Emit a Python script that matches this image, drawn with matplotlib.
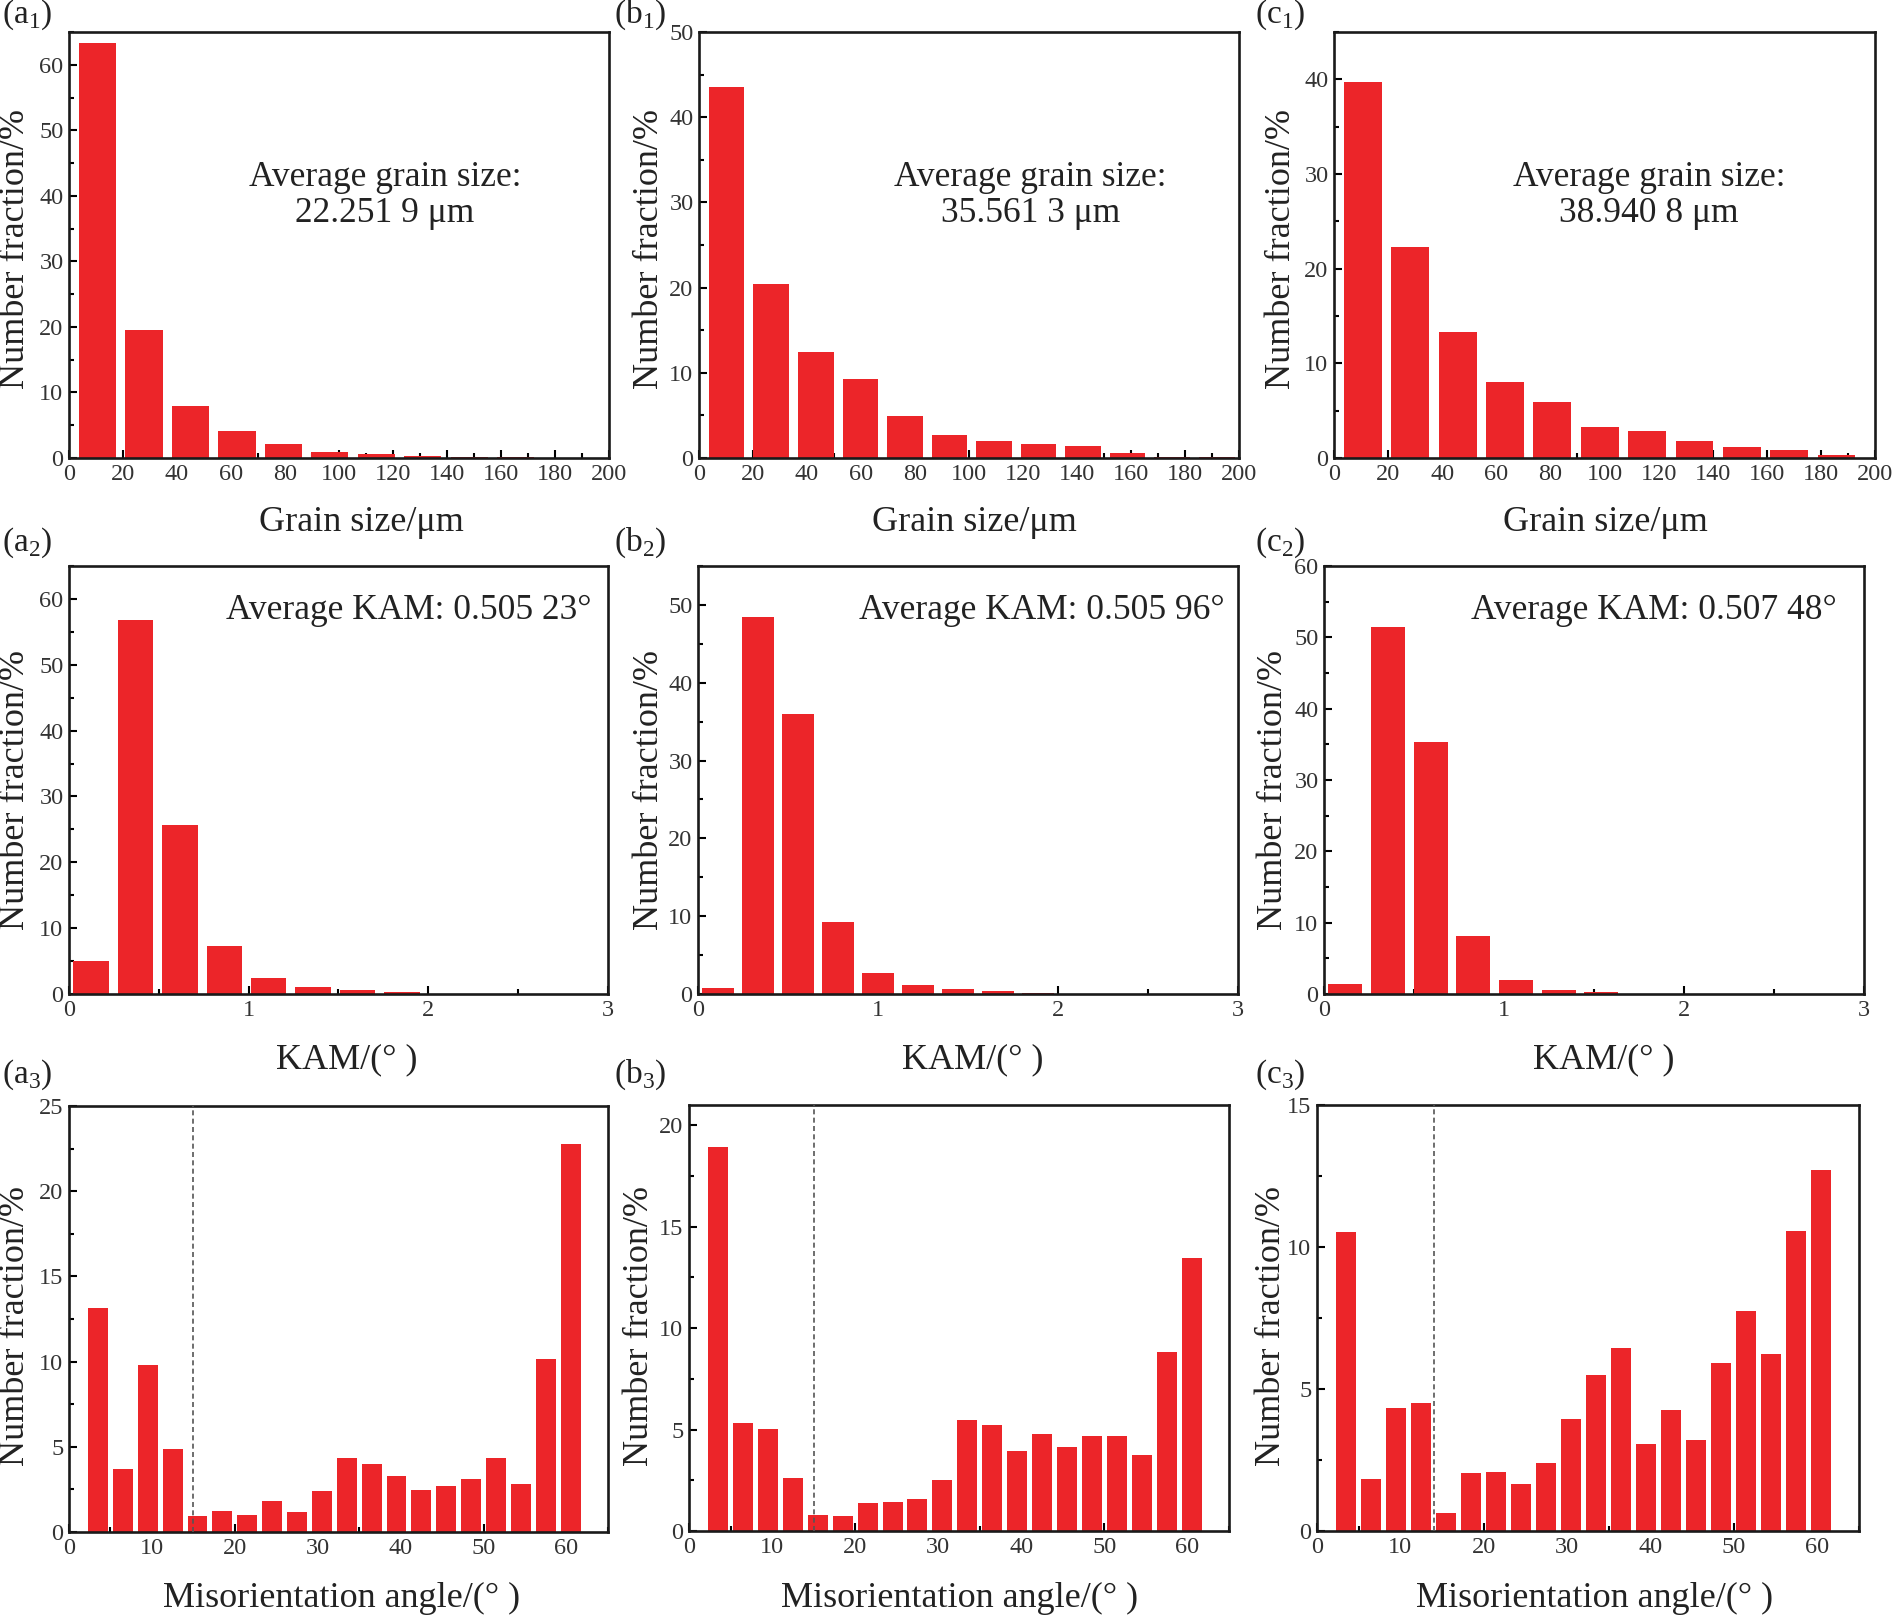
import matplotlib
matplotlib.use("Agg")
import matplotlib.pyplot as plt
from matplotlib.ticker import MultipleLocator

plt.rcParams['font.family'] = ['Liberation Serif', 'DejaVu Serif']
plt.rcParams['mathtext.fontset'] = 'custom'
plt.rcParams['mathtext.rm'] = 'Liberation Serif'

W, H = 1895, 1617
RED = '#EC2529'
TXT = '#222222'

# grain size histograms (bins start at 2 um)
grain_start = 2.0
grain_width = {'a1': 17.2, 'b1': 16.5, 'c1': 17.5}
grain_a1 = [63.3, 19.5, 7.9, 4.1, 2.1, 0.95, 0.6, 0.3, 0.2, 0.08, 0.05]
grain_b1 = [43.5, 20.4, 12.4, 9.3, 4.9, 2.7, 2.0, 1.7, 1.4, 0.55, 0.15, 0.1]
grain_c1 = [39.7, 22.3, 13.3, 8.0, 5.9, 3.3, 2.9, 1.8, 1.2, 0.8, 0.35]
grain_avg = {'a1': '22.251 9', 'b1': '35.561 3', 'c1': '38.940 8'}

# KAM histograms (bins start at 0)
kam_start = 0.0
kam_width = {'a2': 0.247, 'b2': 0.222, 'c2': 0.237}
kam_a2 = [5.0, 56.8, 25.7, 7.3, 2.5, 1.1, 0.6, 0.27]
kam_b2 = [0.8, 48.5, 36.0, 9.2, 2.7, 1.1, 0.6, 0.35, 0.15]
kam_c2 = [1.4, 51.4, 35.3, 8.1, 2.0, 0.6, 0.3]
kam_avg = {'a2': '0.505 23', 'b2': '0.505 96', 'c2': '0.507 48'}

# misorientation histograms (3 deg bins from 2 deg)
mis_start = 2.0
mis_width = 3.0
mis_a3 = [13.16, 3.68, 9.81, 4.89, 0.92, 1.23, 0.98, 1.8, 1.17, 2.39,
          4.33, 3.97, 3.31, 2.47, 2.68, 3.13, 4.35, 2.84, 10.14, 22.75]
mis_b3 = [18.93, 5.32, 5.03, 2.6, 0.81, 0.76, 1.39, 1.43, 1.6, 2.5,
          5.47, 5.22, 3.94, 4.78, 4.15, 4.7, 4.68, 3.77, 8.83, 13.46]
mis_c3 = [10.53, 1.82, 4.33, 4.52, 0.64, 2.04, 2.07, 1.67, 2.41, 3.95,
          5.48, 6.44, 3.06, 4.27, 3.2, 5.93, 7.75, 6.25, 10.55, 12.72]
lagb_line = {'a3': 15, 'b3': 15, 'c3': 14}

# axes boxes in pixels: left, top, right, bottom
boxes = {
    'a1': (69, 32, 609, 458), 'b1': (699, 32, 1239, 458), 'c1': (1334, 32, 1875, 458),
    'a2': (69, 566, 608, 994), 'b2': (698, 566, 1238, 994), 'c2': (1324, 566, 1864, 994),
    'a3': (69, 1106, 608, 1532), 'b3': (689, 1105, 1229, 1531), 'c3': (1317, 1105, 1859, 1531),
}
ylims = {'a1': 65, 'b1': 50, 'c1': 45, 'a2': 65, 'b2': 55, 'c2': 60,
         'a3': 25, 'b3': 21, 'c3': 15}
ymax_tick = {'a1': 60, 'b1': 50, 'c1': 40, 'a2': 60, 'b2': 50, 'c2': 60,
             'a3': 25, 'b3': 20, 'c3': 15}

fig = plt.figure(figsize=(W / 100, H / 100), dpi=100)


def make_ax(key):
    l, t, r, b = boxes[key]
    ax = fig.add_axes([l / W, 1 - b / H, (r - l) / W, (b - t) / H])
    for s in ax.spines.values():
        s.set_linewidth(1.9)
        s.set_color('#1a1a1a')
    ax.tick_params(which='both', direction='in', top=False, right=False,
                   labelsize=17.5, labelcolor='#333333', width=1.5, pad=4)
    ax.tick_params(which='major', length=6)
    ax.tick_params(which='minor', length=3.5)
    return ax


def bars(ax, vals, start, width):
    xs = [start + width * (i + 0.5) for i in range(len(vals))]
    ax.bar(xs, vals, width=width * 0.8, color=RED, linewidth=0, zorder=2)


def fig_text(x, y, s, **kw):
    fig.text(x / W, 1 - y / H, s, **kw)


# row 1: grain size
for key, vals, xlab_x in [('a1', grain_a1, 361), ('b1', grain_b1, 974), ('c1', grain_c1, 1605)]:
    ax = make_ax(key)
    bars(ax, vals, grain_start, grain_width[key])
    ax.set_xlim(0, 200)
    ax.set_ylim(0, ylims[key])
    ax.set_xticks(range(0, 201, 20))
    ax.xaxis.set_minor_locator(MultipleLocator(10))
    ax.set_yticks(range(0, ymax_tick[key] + 1, 10))
    ax.yaxis.set_minor_locator(MultipleLocator(5))
    cx = {'a1': 0.585, 'b1': 0.614, 'c1': 0.582}[key]
    ax.text(cx, 0.658, 'Average grain size:', transform=ax.transAxes,
            ha='center', va='center', fontsize=25.5, color=TXT)
    ax.text(cx, 0.574, grain_avg[key] + ' μm', transform=ax.transAxes,
            ha='center', va='center', fontsize=25.5, color=TXT)
    fig_text(xlab_x, 522, 'Grain size/μm', ha='center', va='center', fontsize=26, color=TXT)

# row 2: KAM
for key, vals, xlab_x in [('a2', kam_a2, 347), ('b2', kam_b2, 973), ('c2', kam_c2, 1604)]:
    ax = make_ax(key)
    bars(ax, vals, kam_start, kam_width[key])
    ax.set_xlim(0, 3)
    ax.set_ylim(0, ylims[key])
    ax.set_xticks([0, 1, 2, 3])
    ax.xaxis.set_minor_locator(MultipleLocator(0.5))
    ax.set_yticks(range(0, ymax_tick[key] + 1, 10))
    ax.yaxis.set_minor_locator(MultipleLocator(5))
    cx = {'a2': 0.630, 'b2': 0.637, 'c2': 0.611}[key]
    ax.text(cx, 0.895, 'Average KAM: ' + kam_avg[key] + '°', transform=ax.transAxes,
            ha='center', va='center', fontsize=25.5, color=TXT)
    fig_text(xlab_x, 1060, 'KAM/(° )', ha='center', va='center', fontsize=26, color=TXT)

# row 3: misorientation angle
for key, vals, xlab_x in [('a3', mis_a3, 342), ('b3', mis_b3, 960), ('c3', mis_c3, 1595)]:
    ax = make_ax(key)
    bars(ax, vals, mis_start, mis_width)
    ax.axvline(lagb_line[key], color='#555555', ls=(0, (3, 2)), lw=1.2, zorder=3)
    ax.set_xlim(0, 65)
    ax.set_ylim(0, ylims[key])
    ax.set_xticks(range(0, 61, 10))
    ax.xaxis.set_minor_locator(MultipleLocator(5))
    ax.set_yticks(range(0, ymax_tick[key] + 1, 5))
    ax.yaxis.set_minor_locator(MultipleLocator(2.5))
    fig_text(xlab_x, 1598, 'Misorientation angle/(° )', ha='center', va='center',
             fontsize=26, color=TXT)

# y labels
for x, y in [(16, 249), (650, 249), (1282, 249),
             (16, 790), (650, 790), (1273, 790),
             (16, 1326), (639, 1326), (1272, 1326)]:
    fig_text(x, y, 'Number fraction/%', rotation=90, ha='center', va='center',
             fontsize=26, color=TXT)

# panel labels
for s, x in [('a', 2), ('b', 614), ('c', 1255)]:
    for row, y in [(1, 15), (2, 543), (3, 1075)]:
        fig_text(x, y, '(' + s + '$_{' + str(row) + '}$)', ha='left', va='center',
                 fontsize=24, color=TXT)

fig.savefig('out.png', dpi=100)
